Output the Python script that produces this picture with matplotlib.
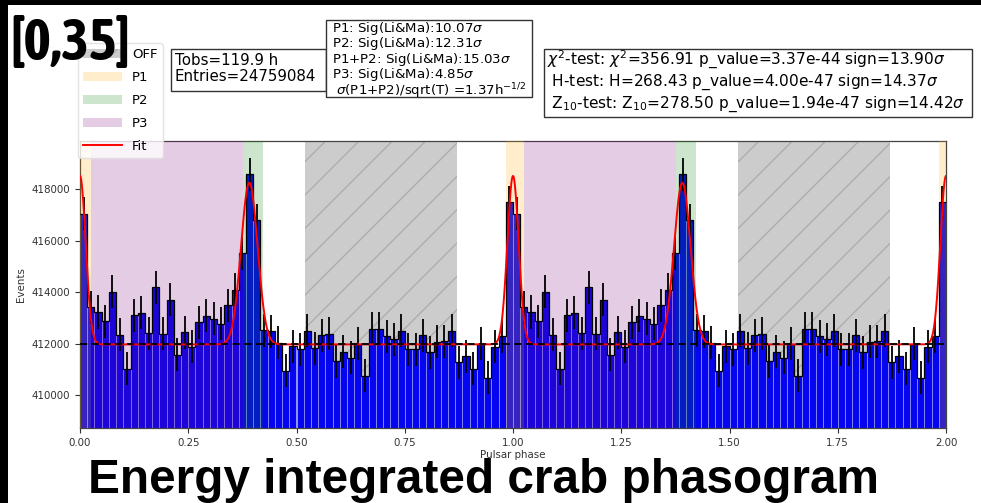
import numpy as np
import matplotlib
matplotlib.use("Agg")
import matplotlib.pyplot as plt
from matplotlib import font_manager
from matplotlib.patches import Rectangle

# ---------------- data (one pulsar period, 60 phase bins) ----------------
counts = [417050, 413420, 413230, 412870, 414020, 412350, 411020, 413100, 413200, 412410,
          414190, 412390, 413710, 411570, 412450, 411870, 412830, 413090, 412960, 412770,
          413490, 414100, 415520, 418590, 416790, 412520, 412480, 412030, 410950, 411900,
          411790, 412500, 411830, 412320, 412390, 411310, 411680, 411460, 412000, 410760,
          412580, 412580, 412290, 412180, 412500, 411790, 411790, 412320, 411660, 412070,
          412090, 412500, 411280, 411510, 411030, 412000, 410670, 411870, 412290, 417490]
n_periods = 2

# fit model parameters
fit_base = 411970
p1_mu, p1_amp, p1_sig = 0.0, 6550, 0.013
p2_mu, p2_amp, p2_sig = 0.391, 6290, 0.019

# phase regions
region_p1 = (-0.017, 0.026)
region_p3 = (0.026, 0.377)
region_p2 = (0.377, 0.422)
region_off = (0.52, 0.87)

xticks = [0.0, 0.25, 0.5, 0.75, 1.0, 1.25, 1.5, 1.75, 2.0]
yticks = [410000, 412000, 414000, 416000, 418000]

box1_text = "Tobs=119.9 h\nEntries=24759084"
box2_text = ("P1: Sig(Li&Ma):10.07$\\sigma$\n"
             "P2: Sig(Li&Ma):12.31$\\sigma$\n"
             "P1+P2: Sig(Li&Ma):15.03$\\sigma$\n"
             "P3: Sig(Li&Ma):4.85$\\sigma$\n"
             " $\\sigma$(P1+P2)/sqrt(T) =1.37h$^{-1/2}$")
box3_text = ("$\\chi^2$-test: $\\chi^2$=356.91 p_value=3.37e-44 sign=13.90$\\sigma$\n"
             " H-test: H=268.43 p_value=4.00e-47 sign=14.37$\\sigma$\n"
             " Z$_{10}$-test: Z$_{10}$=278.50 p_value=1.94e-47 sign=14.42$\\sigma$")

# ---------------- figure ----------------
W, H = 981, 503
fig = plt.figure(figsize=(W / 100, H / 100), dpi=100)
fig.patch.set_facecolor("white")

def fx(px):
    return px / W

def fy(py):
    return 1 - py / H

ax = fig.add_axes([fx(80), fy(428), fx(946) - fx(80), fy(141) - fy(428)])

nb = len(counts)
vals = np.tile(np.array(counts, dtype=float), n_periods)
edges = np.linspace(0, n_periods, nb * n_periods + 1)
centers = 0.5 * (edges[:-1] + edges[1:])
width = edges[1] - edges[0]

ax.bar(centers, vals, width=width, color="#0505f0", edgecolor=(0.6, 0.6, 1.0),
       linewidth=0.5, zorder=2)
ax.stairs(vals, edges, baseline=None, color="black", linewidth=0.9, zorder=4)
ax.errorbar(centers, vals, yerr=np.sqrt(vals), fmt="none", ecolor="black",
            elinewidth=1.3, capsize=0, zorder=5)

first = True
for k in range(n_periods + 1):
    kw = dict(label="OFF") if first else {}
    if k < n_periods:
        ax.axvspan(region_off[0] + k, region_off[1] + k, facecolor="gray", alpha=0.4,
                   hatch="/", edgecolor="gray", linewidth=0, zorder=1, **kw)
    kw = dict(label="P1") if first else {}
    ax.axvspan(region_p1[0] + k, region_p1[1] + k, facecolor="orange", alpha=0.2,
               linewidth=0, zorder=3, **kw)
    if k < n_periods:
        kw = dict(label="P2") if first else {}
        ax.axvspan(region_p2[0] + k, region_p2[1] + k, facecolor="green", alpha=0.2,
                   linewidth=0, zorder=3, **kw)
        kw = dict(label="P3") if first else {}
        ax.axvspan(region_p3[0] + k, region_p3[1] + k, facecolor="purple", alpha=0.2,
                   linewidth=0, zorder=3, **kw)
    first = False

phi = np.linspace(0, n_periods, 3000)
fit = np.full_like(phi, float(fit_base))
for k in range(-1, n_periods + 2):
    fit += p1_amp * np.exp(-0.5 * ((phi - p1_mu - k) / p1_sig) ** 2)
    fit += p2_amp * np.exp(-0.5 * ((phi - p2_mu - k) / p2_sig) ** 2)
ax.plot(phi, fit, color="red", linewidth=1.4, zorder=6, label="Fit")
ax.axhline(fit_base, color="black", linestyle=(0, (4, 2.5)), linewidth=1.3, zorder=7)

ax.set_xlim(0, n_periods)
ax.set_ylim(408720, 419880)
ax.set_xticks(xticks)
ax.set_xticklabels([f"{t:.2f}" for t in xticks])
ax.set_yticks(yticks)
ax.tick_params(labelsize=7.4, colors="#333333", length=3.5, width=0.8)
for s in ax.spines.values():
    s.set_color("#444444")
    s.set_linewidth(0.9)
ax.set_xlabel("Pulsar phase", fontsize=7.4, color="#333333", labelpad=1.5)
ax.set_ylabel("Events", fontsize=7.4, color="#333333")

handles, labels = ax.get_legend_handles_labels()
order = ["OFF", "P1", "P2", "P3", "Fit"]
hmap = dict(zip(labels, handles))
leg = fig.legend([hmap[o] for o in order], order, loc="upper left",
                 bbox_to_anchor=(fx(78), fy(43)), borderaxespad=0, fontsize=9.5,
                 handlelength=2.9, handletextpad=0.8, labelspacing=0.75,
                 borderpad=0.4, framealpha=0.8, edgecolor="#dddddd", fancybox=True)

# text boxes: frames placed in figure pixels, texts inside
def frame(x0, y0, x1, y1):
    fig.patches.append(Rectangle((fx(x0), fy(y1)), fx(x1) - fx(x0), fy(y0) - fy(y1),
                                 transform=fig.transFigure, facecolor="white",
                                 edgecolor="#333333", linewidth=1.0, zorder=7))

frame(171, 49, 326, 91)
fig.text(fx(175), fy(53), box1_text, fontsize=10.8, va="top", ha="left",
         linespacing=1.1, zorder=8)
frame(326, 20, 532, 97)
fig.text(fx(332), fy(20), box2_text, fontsize=9.6, va="top", ha="left",
         linespacing=0.86, zorder=8)
frame(544, 49, 972, 117)
fig.text(fx(547), fy(49), box3_text, fontsize=11.1, va="top", ha="left",
         linespacing=1.15, zorder=8)

# slide decorations
def pick(fams):
    for f in fams:
        try:
            font_manager.findfont(f, fallback_to_default=False)
            return f
        except Exception:
            pass
    return None

bold = pick(["Liberation Sans", "DejaVu Sans"]) or "DejaVu Sans"
narrow = pick(["Asap Condensed"])
if narrow:
    fig.text(fx(10), fy(60), "[0,35]", fontsize=42, fontweight="bold",
             family=narrow, va="baseline", ha="left", zorder=20)
else:
    fig.text(fx(10), fy(57), "[0,35]", fontsize=35, fontweight="bold",
             family=bold, va="baseline", ha="left", zorder=20)
fig.text(fx(88), fy(493), "Energy integrated crab phasogram", fontsize=34.4,
         fontweight="bold", family=bold, va="baseline", ha="left", zorder=20)

fig.patches.append(Rectangle((0, 0), fx(8), 1, transform=fig.transFigure,
                             facecolor="black", edgecolor="none", zorder=0))
fig.patches.append(Rectangle((0, fy(5)), 1, 1 - fy(5), transform=fig.transFigure,
                             facecolor="black", edgecolor="none", zorder=0))

fig.savefig("out.png", dpi=100)
